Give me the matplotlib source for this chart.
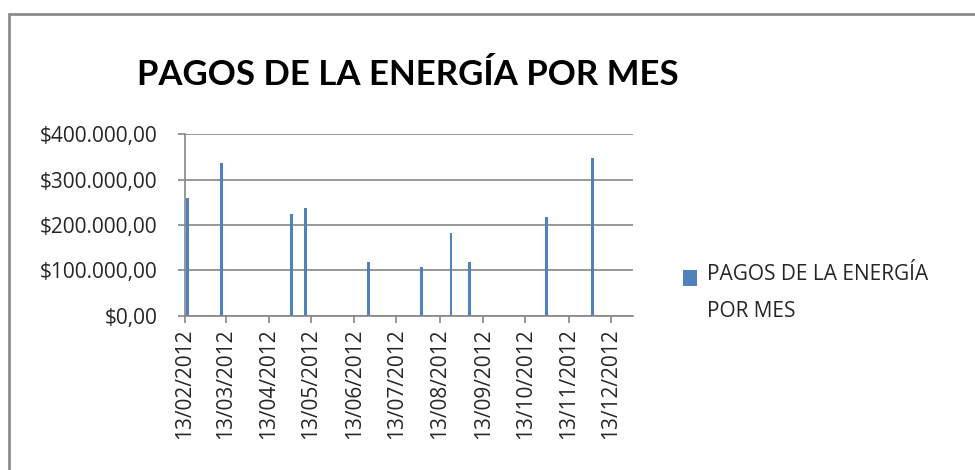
import matplotlib
matplotlib.use('Agg')
import matplotlib.pyplot as plt
import matplotlib.dates as mdates
import matplotlib.patches as mpatches
from matplotlib.container import BarContainer
from matplotlib.legend_handler import HandlerPatch
from matplotlib.ticker import FuncFormatter
import pandas as pd

# payment dates and amounts
fechas = ['15/02/2012', '10/03/2012', '29/04/2012', '09/05/2012', '23/06/2012',
          '31/07/2012', '21/08/2012', '03/09/2012', '28/10/2012', '30/11/2012']
pagos = [259000, 336000, 223500, 237000, 118500,
         107500, 183000, 118500, 218500, 348500]
tick_fechas = ['13/02/2012', '13/03/2012', '13/04/2012', '13/05/2012', '13/06/2012',
               '13/07/2012', '13/08/2012', '13/09/2012', '13/10/2012', '13/11/2012',
               '13/12/2012']
y_ticks = [0, 100000, 200000, 300000, 400000]
titulo = 'PAGOS DE LA ENERGÍA POR MES'
serie = 'PAGOS DE LA ENERGÍA\nPOR MES'

plt.rcParams['font.family'] = ['Open Sans', 'DejaVu Sans']

x = pd.to_datetime(fechas, format='%d/%m/%Y')
xt = pd.to_datetime(tick_fechas, format='%d/%m/%Y')

fig = plt.figure(figsize=(9.75, 4.7), dpi=100)
ax = fig.add_axes([185 / 975, 1 - 315.7 / 470, 448 / 975, 181.4 / 470])

ax.bar(x, pagos, width=2.0, color='#4F81BD', label=serie, zorder=3)

ax.set_xlim(xt[0], xt[0] + pd.Timedelta(days=320))
ax.set_ylim(0, 400000)
ax.set_xticks(xt)
ax.xaxis.set_major_formatter(mdates.DateFormatter('%d/%m/%Y'))
ax.set_yticks(y_ticks)


def pesos(v, pos):
    s = '{:,.2f}'.format(v)
    return '$' + s.replace(',', '#').replace('.', ',').replace('#', '.')


ax.yaxis.set_major_formatter(FuncFormatter(pesos))

grey = '#868686'
ax.grid(axis='y', color=grey, lw=1.2, zorder=1)
for s in ['top', 'right']:
    ax.spines[s].set_visible(False)
for s in ['left', 'bottom']:
    ax.spines[s].set_color(grey)
    ax.spines[s].set_linewidth(1.2)
    ax.spines[s].set_zorder(4)
ax.tick_params(axis='x', direction='out', length=5, width=1.2, color=grey,
               labelrotation=90, labelsize=15, pad=4, labelcolor='#262626')
ax.tick_params(axis='y', direction='out', length=5, width=1.2, color=grey,
               labelsize=15, pad=15, labelcolor='#262626')

fig.text(408 / 975, 1 - 85 / 470, titulo, ha='center', va='baseline',
         fontsize=25, fontweight='bold', family=['Lato', 'DejaVu Sans'])


def cuadro(legend, orig_handle, xdescent, ydescent, width, height, fontsize):
    return mpatches.Rectangle((-xdescent, -ydescent + 0.75 * fontsize), width, height)


def primera_barra(handle, orig):
    handle.update_from(orig.patches[0])


leg = ax.legend(loc='center left', bbox_to_anchor=(664 / 975, 1 - 293 / 470),
                bbox_transform=fig.transFigure, frameon=False, fontsize=15,
                handlelength=0.7, handleheight=0.75, handletextpad=0.45,
                handler_map={BarContainer: HandlerPatch(patch_func=cuadro,
                                                        update_func=primera_barra)})
for t in leg.get_texts():
    t.set_linespacing(2.0)
    t.set_color('#262626')

fig.add_artist(mpatches.Rectangle((9 / 975, -0.1), 1.2, (470 - 14) / 470 + 0.1,
                                  transform=fig.transFigure, fill=False,
                                  edgecolor='#8c8c8c', lw=2))

plt.savefig('out.png', dpi=100)
